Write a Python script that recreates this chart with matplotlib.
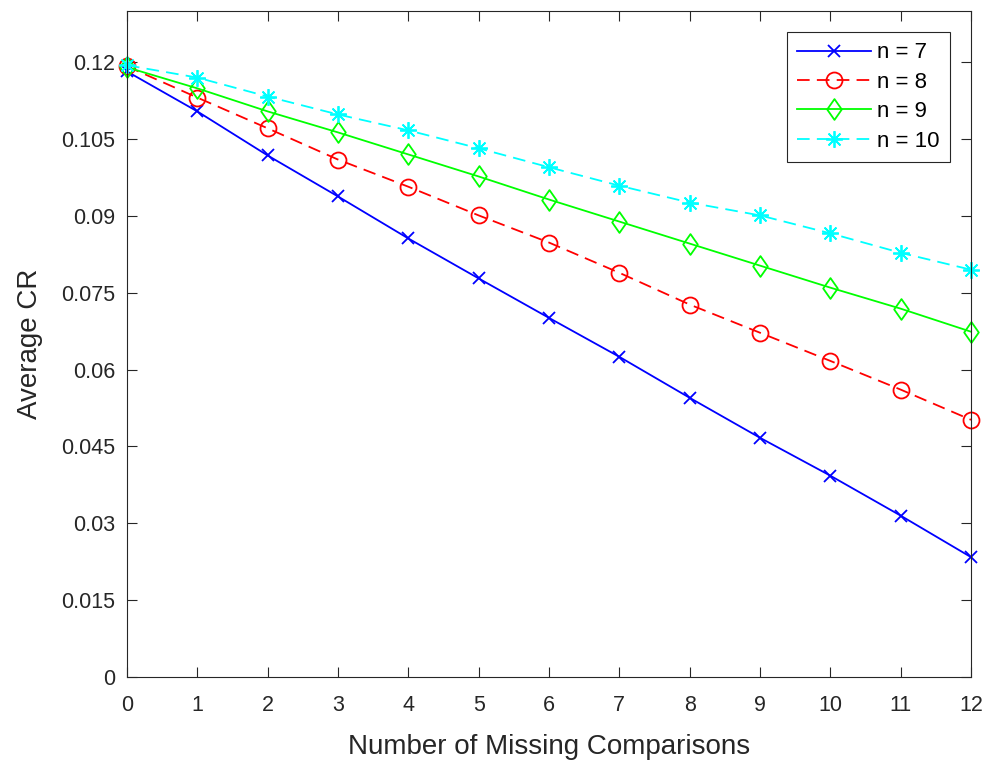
import numpy as np
import matplotlib
matplotlib.use("Agg")
import matplotlib.pyplot as plt
from matplotlib.path import Path

# ─── DATA ───────────────────────────────────────────────────────────────────

missing = list(range(13))
cr_n7 = [0.1182, 0.1104, 0.1018, 0.0938, 0.0856, 0.0778, 0.0701,
         0.0625, 0.0545, 0.0467, 0.0393, 0.0315, 0.0234]
cr_n8 = [0.1192, 0.1131, 0.1071, 0.1010, 0.0957, 0.0901, 0.0848,
         0.0789, 0.0727, 0.0672, 0.0617, 0.0561, 0.0502]
cr_n9 = [0.1190, 0.1149, 0.1104, 0.1063, 0.1020, 0.0977, 0.0932,
         0.0889, 0.0846, 0.0803, 0.0760, 0.0719, 0.0674]
cr_n10 = [0.1194, 0.1170, 0.1133, 0.1098, 0.1067, 0.1032, 0.0995,
          0.0959, 0.0926, 0.0901, 0.0866, 0.0828, 0.0795]

labels = ["n = 7", "n = 8", "n = 9", "n = 10"]
y_ticks = [0, 0.015, 0.03, 0.045, 0.06, 0.075, 0.09, 0.105, 0.12]
y_tick_labels = ["0", "0.015", "0.03", "0.045", "0.06", "0.075", "0.09", "0.105", "0.12"]

# ─── PLOT ───────────────────────────────────────────────────────────────────

plt.rcParams["font.family"] = ["Liberation Sans", "DejaVu Sans"]
AX_COLOR = "#262626"
DASH = (0, (7, 4))
LW = 1.3

# MATLAB-style diamond: taller than wide
diamond = Path([(0, 1), (0.7, 0), (0, -1), (-0.7, 0), (0, 1)],
               [Path.MOVETO, Path.LINETO, Path.LINETO, Path.LINETO, Path.CLOSEPOLY])

fig = plt.figure(figsize=(9.95, 7.62), dpi=100)
ax = fig.add_axes([0.1276, 0.1115, 0.8483, 0.8741])

ax.plot(missing, cr_n7, color="#0000ff", ls="-", lw=LW, marker="x",
        ms=9, mew=LW, clip_on=False, label=labels[0])
ax.plot(missing, cr_n8, color="#ff0000", ls=DASH, lw=LW, marker="o",
        ms=11.5, mew=LW, mfc="none", clip_on=False, label=labels[1])
ax.plot(missing, cr_n9, color="#00ff00", ls="-", lw=LW, marker=diamond,
        ms=15, mew=LW, mfc="none", clip_on=False, label=labels[2])
ax.plot(missing, cr_n10, color="#00ffff", ls=DASH, lw=LW, marker=(8, 2, 0),
        ms=12, mew=LW, clip_on=False, label=labels[3])

ax.set_xlim(0, 12)
ax.set_ylim(0, 0.13)
ax.set_xticks(missing)
ax.set_yticks(y_ticks)
ax.set_yticklabels(y_tick_labels)

ax.tick_params(direction="in", length=7, width=0.8, colors=AX_COLOR,
               labelsize=15.5, top=True, right=True)
ax.tick_params(axis="x", pad=13)
ax.tick_params(axis="y", pad=8.5)
for side in ax.spines.values():
    side.set_color(AX_COLOR)
    side.set_linewidth(0.8)

ax.set_xlabel("Number of Missing Comparisons", fontsize=20, color=AX_COLOR, labelpad=13)
ax.set_ylabel("Average CR", fontsize=20, color=AX_COLOR, labelpad=13)

leg = ax.legend(loc="upper right", bbox_to_anchor=(0.975, 0.968), borderaxespad=0,
                fontsize=16, fancybox=False, framealpha=1, edgecolor=AX_COLOR,
                handlelength=3.3, handletextpad=0.3, borderpad=0.45,
                labelspacing=0.38)
leg.get_frame().set_linewidth(0.8)

fig.savefig("out.png", dpi=100)
